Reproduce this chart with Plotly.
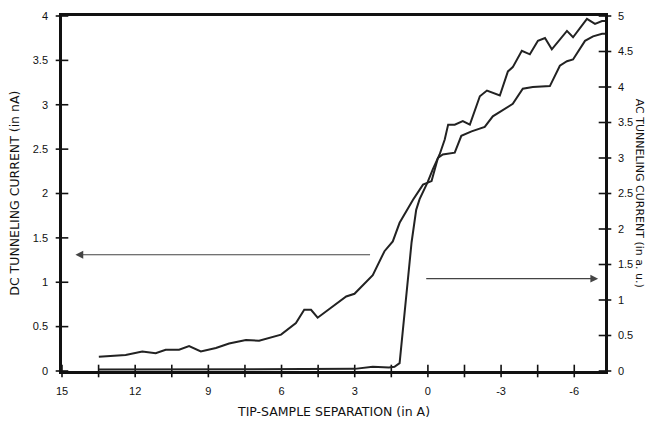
import plotly.graph_objects as go

# ---- data ----
dc_x = [13.49, 12.39, 11.71, 11.16, 10.75, 10.20, 9.79, 9.31, 8.69, 8.15, 7.46, 6.92,
        6.02, 5.41, 5.07, 4.79, 4.52, 3.97, 3.35, 3.01, 2.26, 1.78, 1.44, 1.16, 0.61,
        0.20, -0.15, -0.41, -0.61, -1.10, -1.37, -1.79, -2.33, -2.66, -3.48, -3.89,
        -4.30, -5.00, -5.41, -5.70, -5.95, -6.44, -6.77, -7.14, -7.26]
dc_y = [0.16, 0.18, 0.22, 0.20, 0.24, 0.24, 0.28, 0.22, 0.26, 0.31, 0.35, 0.34,
        0.41, 0.54, 0.69, 0.69, 0.60, 0.71, 0.84, 0.87, 1.08, 1.35, 1.46, 1.67, 1.93,
        2.10, 2.14, 2.40, 2.44, 2.46, 2.65, 2.70, 2.75, 2.87, 3.01, 3.18,
        3.20, 3.21, 3.44, 3.49, 3.51, 3.72, 3.77, 3.80, 3.80]

ac_x = [13.49, 12.0, 10.5, 9.0, 7.5, 6.0, 4.5, 3.0, 2.26, 1.60, 1.37, 1.16, 0.67,
        0.48, 0.34, 0.01, -0.20, -0.48, -0.69, -0.83, -1.10, -1.43, -1.72, -1.93,
        -2.13, -2.42, -2.95, -3.28, -3.48, -3.85, -4.18, -4.51, -4.80, -5.08, -5.70,
        -5.95, -6.52, -6.85, -7.14, -7.26]
ac_y = [0.02, 0.02, 0.03, 0.02, 0.03, 0.02, 0.03, 0.03, 0.06, 0.05, 0.06, 0.11, 1.81,
        2.27, 2.42, 2.66, 2.84, 3.05, 3.26, 3.47, 3.47, 3.52, 3.47, 3.69,
        3.87, 3.95, 3.88, 4.22, 4.28, 4.51, 4.46, 4.65, 4.69, 4.53, 4.79,
        4.70, 4.96, 4.89, 4.93, 4.93]

x_ticks = [15 - 1.5 * i for i in range(15)]
x_labels = ["15", "", "12", "", "9", "", "6", "", "3", "", "0", "", "-3", "", "-6"]
dc_ticks = [0, 0.5, 1, 1.5, 2, 2.5, 3, 3.5, 4]
dc_labels = ["0", "0.5", "1", "1.5", "2", "2.5", "3", "3.5", "4"]
ac_ticks = [0, 0.5, 1, 1.5, 2, 2.5, 3, 3.5, 4, 4.5, 5]
ac_labels = ["0", "0.5", "1", "1.5", "2", "2.5", "3", "3.5", "4", "4.5", "5"]

x_range = [15, -7.26]
dc_range = [0, 4]
ac_range = [0, 5]

# arrows: (tail x, head x, level)
dc_arrow = (2.31, 14.45, 1.31)
ac_arrow = (0.13, -6.98, 1.30)

FONT = "Liberation Sans"
TFONT = "DejaVu Sans"
INK = "#111111"

fig = go.Figure()
fig.add_trace(go.Scatter(x=dc_x, y=dc_y, mode="lines", xaxis="x", yaxis="y",
                         line=dict(color="#222222", width=2), showlegend=False,
                         cliponaxis=False))
fig.add_trace(go.Scatter(x=ac_x, y=ac_y, mode="lines", xaxis="x", yaxis="y2",
                         line=dict(color="#222222", width=2), showlegend=False,
                         cliponaxis=False))

# cross-style tick marks (centred on the axis lines), placed through the axes' scales
fig.add_trace(go.Scatter(x=x_ticks, y=[dc_range[0]] * len(x_ticks), mode="markers",
                         xaxis="x", yaxis="y", cliponaxis=False, showlegend=False,
                         hoverinfo="skip",
                         marker=dict(symbol="line-ns", size=9,
                                     line=dict(color=INK, width=1.6))))
fig.add_trace(go.Scatter(x=[x_range[0]] * len(dc_ticks), y=dc_ticks, mode="markers",
                         xaxis="x", yaxis="y", cliponaxis=False, showlegend=False,
                         hoverinfo="skip",
                         marker=dict(symbol="line-ew", size=9,
                                     line=dict(color=INK, width=1.6))))
fig.add_trace(go.Scatter(x=[x_range[1]] * len(ac_ticks), y=ac_ticks, mode="markers",
                         xaxis="x", yaxis="y2", cliponaxis=False, showlegend=False,
                         hoverinfo="skip",
                         marker=dict(symbol="line-ew", size=9,
                                     line=dict(color=INK, width=1.6))))

tickfont = dict(family=FONT, size=11, color=INK)
common = dict(showgrid=False, zeroline=False, tickfont=tickfont, automargin=False,
              ticks="", showline=True, linecolor=INK, linewidth=2.5)

# the page body adds an 8px offset at top-left, so the figure is 8px smaller
fig.update_layout(
    template="none",
    width=645, height=419,
    margin=dict(l=54, r=48, t=8, b=56),
    plot_bgcolor="white", paper_bgcolor="white",
    showlegend=False,
    xaxis=dict(range=x_range, tickvals=x_ticks, ticktext=x_labels, mirror=True,
               anchor="y", ticklabelstandoff=8, **common),
    yaxis=dict(range=dc_range, tickvals=dc_ticks, ticktext=dc_labels,
               ticklabelstandoff=9, **common),
    yaxis2=dict(range=ac_range, tickvals=ac_ticks, ticktext=ac_labels,
                overlaying="y", side="right", anchor="x", ticklabelstandoff=8, **common),
)

fig.add_annotation(x=dc_arrow[1], y=dc_arrow[2], ax=dc_arrow[0], ay=dc_arrow[2],
                   xref="x", yref="y", axref="x", ayref="y", text="", showarrow=True,
                   arrowhead=2, arrowsize=1.3, arrowwidth=1.2, arrowcolor="#444444")
fig.add_annotation(x=ac_arrow[1], y=ac_arrow[2], ax=ac_arrow[0], ay=ac_arrow[2],
                   xref="x", yref="y2", axref="x", ayref="y2", text="", showarrow=True,
                   arrowhead=2, arrowsize=1.3, arrowwidth=1.2, arrowcolor="#444444")

titlefont = dict(family=TFONT, size=12.5, color=INK)
fig.add_annotation(text="DC TUNNELING CURRENT (in nA)", xref="paper", yref="paper",
                   x=-0.088, y=0.5, xanchor="center", yanchor="middle", textangle=-90,
                   showarrow=False, font=titlefont)
fig.add_annotation(text="AC TUNNELING CURRENT (in a. u.)", xref="paper", yref="paper",
                   x=1.064, y=0.5, xanchor="center", yanchor="middle", textangle=90,
                   showarrow=False, font=dict(family=TFONT, size=11, color=INK))
fig.add_annotation(text="TIP-SAMPLE SEPARATION (in A)", xref="paper", yref="paper",
                   x=0.5, y=-0.113, xanchor="center", yanchor="middle",
                   showarrow=False, font=titlefont)

fig.write_html("out.html")
